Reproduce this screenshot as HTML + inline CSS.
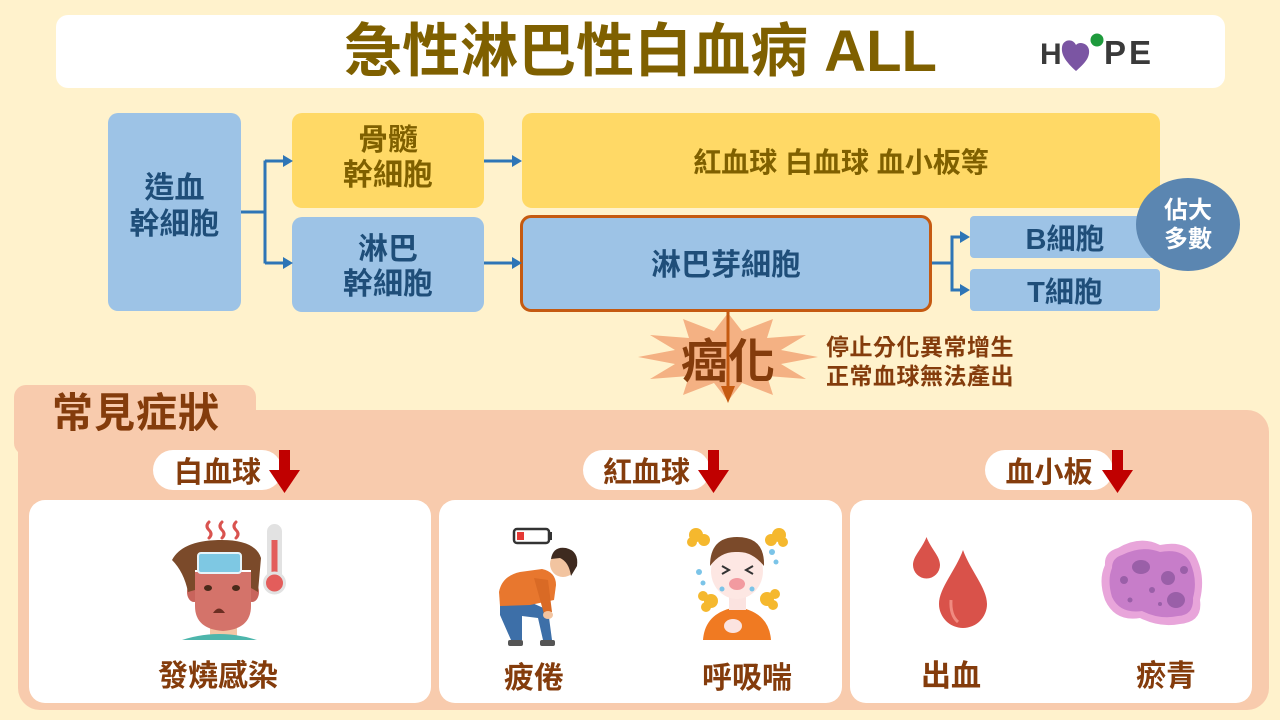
<!DOCTYPE html>
<html><head><meta charset="utf-8">
<style>
*{margin:0;padding:0;box-sizing:border-box}
body{width:1280px;height:720px;background:#FFF2CC;position:relative;overflow:hidden;font-family:"Liberation Sans","Noto Sans CJK TC",sans-serif;font-weight:bold}
.a{position:absolute}
.c{display:flex;align-items:center;justify-content:center;text-align:center;flex-direction:column}
.bt{color:#1F4E79}
.yt{color:#7F6000}
.br{color:#843C0C}
svg{position:absolute;left:0;top:0}
</style></head><body>

<!-- Title -->
<div class="a" style="left:56px;top:15px;width:1169px;height:73px;background:#fff;border-radius:12px"></div>
<div class="a c yt" style="left:56px;top:15px;width:1169px;height:73px;font-size:58px;line-height:60px;">急性淋巴性白血病 ALL</div>

<!-- flow boxes -->
<div class="a c bt" style="left:108px;top:113px;width:133px;height:198px;background:#9DC3E6;border-radius:10px;font-size:30px;line-height:36px;padding-bottom:10px">造血<br>幹細胞</div>
<div class="a c yt" style="left:292px;top:113px;width:192px;height:95px;background:#FFD966;border-radius:10px;font-size:30px;line-height:35px;padding-bottom:6px">骨髓<br>幹細胞</div>
<div class="a c bt" style="left:292px;top:217px;width:192px;height:95px;background:#9DC3E6;border-radius:10px;font-size:30px;line-height:35px;padding-top:4px">淋巴<br>幹細胞</div>
<div class="a c yt" style="left:522px;top:113px;width:638px;height:95px;background:#FFD966;border-radius:10px;font-size:28px;">紅血球 白血球 血小板等</div>
<div class="a c bt" style="left:520px;top:215px;width:412px;height:97px;background:#9DC3E6;border:3px solid #C55A11;border-radius:11px;font-size:30px;padding-bottom:4px">淋巴芽細胞</div>
<div class="a c bt" style="left:970px;top:216px;width:190px;height:42px;background:#9DC3E6;border-radius:4px;font-size:29px;">B細胞</div>
<div class="a c bt" style="left:970px;top:269px;width:190px;height:42px;background:#9DC3E6;border-radius:4px;font-size:29px;">T細胞</div>
<div class="a c" style="left:1136px;top:178px;width:104px;height:93px;background:#5B86B1;border-radius:50%;font-size:24px;line-height:29px;color:#fff;">佔大<br>多數</div>

<!-- bottom panel -->
<div class="a" style="left:14px;top:385px;width:242px;height:70px;background:#F8CBAD;border-radius:12px"></div>
<div class="a" style="left:18px;top:410px;width:1251px;height:300px;background:#F8CBAD;border-radius:22px"></div>
<div class="a br" style="left:52px;top:390px;font-size:41px;line-height:46px;letter-spacing:1px">常見症狀</div>

<div class="a c br" style="left:153px;top:450px;width:129px;height:40px;background:#fff;border-radius:20px;font-size:29px;">白血球</div>
<div class="a c br" style="left:583px;top:450px;width:127px;height:40px;background:#fff;border-radius:20px;font-size:29px;">紅血球</div>
<div class="a c br" style="left:985px;top:450px;width:128px;height:40px;background:#fff;border-radius:20px;font-size:29px;">血小板</div>

<div class="a" style="left:29px;top:500px;width:402px;height:203px;background:#fff;border-radius:16px"></div>
<div class="a" style="left:439px;top:500px;width:403px;height:203px;background:#fff;border-radius:16px"></div>
<div class="a" style="left:850px;top:500px;width:402px;height:203px;background:#fff;border-radius:16px"></div>

<svg width="1280" height="720" viewBox="0 0 1280 720">
  <!-- connectors -->
  <g stroke="#2E75B6" stroke-width="3" fill="none">
    <path d="M241 212 H265 M265 160.5 V263.5 M265 161 H284 M265 263 H284"/>
    <path d="M484 161 H513 M484 263 H513"/>
    <path d="M932 263 H952 M952 235.5 V291.5 M952 237 H961 M952 290 H961"/>
  </g>
  <g fill="#2E75B6">
    <polygon points="283,155 293,161 283,167"/>
    <polygon points="283,257 293,263 283,269"/>
    <polygon points="512,155 522,161 512,167"/>
    <polygon points="512,257 522,263 512,269"/>
    <polygon points="960,231 970,237 960,243"/>
    <polygon points="960,284 970,290 960,296"/>
  </g>
  <!-- burst -->
  <polygon fill="#F4B183" points="818,357 781,364 806,379 767,376 773,395 742,383 728,401 714,383 683,395 689,376 650,379 675,364 638,357 675,350 650,335 689,338 683,319 714,331 728,313 742,331 773,319 767,338 806,335 781,350"/>
  <line x1="728" y1="312" x2="728" y2="390" stroke="#C55A11" stroke-width="3"/>
  <polygon points="721,386 735,386 728,403" fill="#C55A11"/>

  <!-- red arrows -->
  <g fill="#C00000">
    <rect x="279" y="450" width="11" height="22"/><polygon points="269,470 300,470 284.5,493"/>
    <rect x="708" y="450" width="11" height="22"/><polygon points="698,470 729,470 713.5,493"/>
    <rect x="1112" y="450" width="11" height="22"/><polygon points="1102,470 1133,470 1117.5,493"/>
  </g>

  <!-- logo -->
  <text x="1040" y="64" font-family="Liberation Sans" font-weight="bold" font-size="30" fill="#3A3A3A">H</text>
  <path d="M1076 71 C1066 62 1061 55 1062 47 C1063 39 1073 38 1076 45 C1079 41 1088 43 1089 50 C1090 58 1084 64 1076 71 Z" fill="#7B55A3"/>
  <circle cx="1097" cy="40" r="6.5" fill="#1E9A3C"/>
  <text x="1104" y="64" font-family="Liberation Sans" font-weight="bold" font-size="33" letter-spacing="3" fill="#3A3A3A">PE</text>

  <!-- fever icon -->
  <g fill="none" stroke="#D9534F" stroke-width="3" stroke-linecap="round">
    <path d="M209 522 q-4 4 0 8 q4 4 0 8"/>
    <path d="M222 522 q-4 4 0 8 q4 4 0 8"/>
    <path d="M236 522 q-4 4 0 8 q4 4 0 8"/>
  </g>
  <ellipse cx="194" cy="592" rx="7" ry="10" fill="#C8645C"/>
  <ellipse cx="252" cy="592" rx="7" ry="10" fill="#C8645C"/>
  <rect x="210" y="614" width="27" height="22" fill="#F3C6A5"/>
  <path d="M182 640 Q219 628 257 640 Z" fill="#4DB6AC"/>
  <path d="M195 572 L251 572 L251 606 Q251 629 223 631 Q195 629 195 606 Z" fill="#D4736A"/>
  <path d="M172 560 Q182 541 218 540 Q255 539 261 558 L258 592 L251 588 L251 570 L195 570 L195 590 L188 592 Q184 572 172 560 Z" fill="#7B4A2A"/>
  <rect x="198" y="553" width="43" height="20" rx="3" fill="#7EC8E3" stroke="#E6F4FA" stroke-width="2"/>
  <ellipse cx="208" cy="588" rx="4" ry="3" fill="#4A2A1A"/>
  <ellipse cx="236" cy="588" rx="4" ry="3" fill="#4A2A1A"/>
  <path d="M213 613 Q219 604 225 613 Z" fill="#6B2E22"/>
  <rect x="267" y="524" width="15" height="62" rx="7.5" fill="#E2E2E2"/>
  <rect x="271.5" y="540" width="6" height="44" fill="#E35D5B"/>
  <circle cx="274.5" cy="583" r="10" fill="#E35D5B" stroke="#E2E2E2" stroke-width="3"/>

  <!-- tired man -->
  <rect x="514" y="529" width="35" height="14" rx="3" fill="#fff" stroke="#333" stroke-width="2.5"/>
  <rect x="549" y="532" width="3" height="8" fill="#333"/>
  <rect x="517" y="532" width="7" height="8" fill="#E53935"/>
  <path d="M500 600 L530 602 L548 610 L552 640 L543 640 L538 618 L522 616 L522 640 L511 640 L500 615 Z" fill="#3D6FA8"/>
  <path d="M499 592 Q502 576 520 572 L542 569 Q556 572 556 585 L554 600 L530 605 L500 606 Z" fill="#E8772E"/>
  <path d="M534 578 L548 580 L552 612 L544 614 Z" fill="#D96A25"/>
  <ellipse cx="548" cy="615" rx="5" ry="4" fill="#F2C4A0"/>
  <rect x="508" y="640" width="15" height="6" rx="2" fill="#555"/>
  <rect x="540" y="640" width="15" height="6" rx="2" fill="#555"/>
  <circle cx="563" cy="564" r="13" fill="#F2C4A0"/>
  <path d="M551 559 Q553 546 566 548 Q579 551 577 566 L571 576 Q569 562 560 558 Z" fill="#3E2A1F"/>

  <!-- breathing boy -->
  <g fill="#F5B82E">
    <circle cx="696" cy="535" r="7"/><circle cx="704" cy="540" r="6"/><circle cx="692" cy="542" r="5"/>
    <circle cx="779" cy="535" r="7"/><circle cx="771" cy="540" r="6"/><circle cx="783" cy="542" r="5"/>
    <circle cx="711" cy="601" r="7"/><circle cx="703" cy="596" r="5"/><circle cx="706" cy="607" r="5"/>
    <circle cx="767" cy="599" r="7"/><circle cx="775" cy="594" r="5"/><circle cx="773" cy="605" r="5"/>
  </g>
  <path d="M703 640 Q705 612 737 607 Q769 612 771 640 Z" fill="#F07A22"/>
  <rect x="729" y="594" width="17" height="16" fill="#FBE3E0"/>
  <ellipse cx="737" cy="571" rx="26" ry="28" fill="#FDE7E3"/>
  <path d="M710 566 Q710 537 737 537 Q765 537 764 566 Q752 551 737 552 Q721 551 710 566 Z" fill="#7B4A2A"/>
  <g stroke="#333" stroke-width="2" fill="none"><path d="M722 566 l7 4 l-7 4"/><path d="M753 566 l-7 4 l7 4"/></g>
  <ellipse cx="737" cy="584" rx="8" ry="6" fill="#F29AA0"/>
  <ellipse cx="733" cy="626" rx="9" ry="7" fill="#FBE3E0"/>
  <g fill="#7BC4E8"><circle cx="699" cy="572" r="3"/><circle cx="703" cy="583" r="2.5"/><circle cx="772" cy="552" r="3"/><circle cx="776" cy="562" r="2.5"/><circle cx="722" cy="589" r="2.5"/><circle cx="752" cy="589" r="2.5"/></g>

  <!-- blood drops -->
  <path d="M926.5 537 C931 549 940 556 940 565 A13.5 13.5 0 0 1 913 565 C913 556 922 549 926.5 537 Z" fill="#D9524A"/>
  <path d="M963 550 C970 570 987 588 987 604 A24 24 0 0 1 939 604 C939 588 956 570 963 550 Z" fill="#D9524A"/>
  <path d="M951 600 Q950 615 958 622" stroke="#F08A80" stroke-width="3" fill="none"/>

  <!-- bruise -->
  <path d="M1118 548 Q1140 535 1160 545 Q1185 540 1195 555 Q1206 575 1200 600 Q1203 622 1180 624 Q1160 628 1140 618 Q1115 622 1105 600 Q1098 580 1105 565 Q1104 552 1118 548 Z" fill="#E8A5DA"/>
  <path d="M1122 555 Q1142 545 1160 552 Q1182 548 1190 562 Q1198 580 1193 598 Q1194 615 1178 616 Q1160 620 1142 611 Q1120 614 1112 597 Q1107 580 1112 568 Q1112 558 1122 555 Z" fill="#C77DC9"/>
  <g fill="#9A5FA8">
    <ellipse cx="1141" cy="567" rx="9" ry="7"/><circle cx="1168" cy="578" r="7"/><ellipse cx="1176" cy="600" rx="9" ry="8"/>
    <circle cx="1124" cy="580" r="4"/><circle cx="1152" cy="590" r="3"/><circle cx="1184" cy="570" r="4"/><circle cx="1130" cy="600" r="2.5"/><circle cx="1160" cy="604" r="2"/>
  </g>
</svg>

<!-- burst text -->
<div class="a c br" style="left:668px;top:330px;width:120px;height:54px;font-size:47px;">癌化</div>
<div class="a br" style="left:826px;top:333px;font-size:23px;line-height:29px;letter-spacing:0.5px">停止分化異常增生<br>正常血球無法產出</div>

<!-- labels -->
<div class="a c br" style="left:118px;top:653px;width:200px;height:40px;font-size:30px;">發燒感染</div>
<div class="a c br" style="left:434px;top:655px;width:200px;height:40px;font-size:30px;">疲倦</div>
<div class="a c br" style="left:647px;top:655px;width:200px;height:40px;font-size:30px;">呼吸喘</div>
<div class="a c br" style="left:851px;top:653px;width:200px;height:40px;font-size:30px;">出血</div>
<div class="a c br" style="left:1066px;top:653px;width:200px;height:40px;font-size:30px;">瘀青</div>

</body></html>
